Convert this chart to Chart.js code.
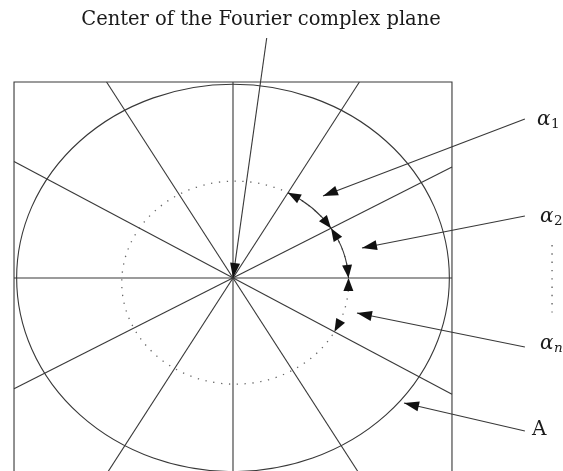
<!DOCTYPE html>
<html>
<head>
<meta charset="utf-8">
<script src="https://cdn.jsdelivr.net/npm/chart.js@4"></script>
<style>
    html, body { margin: 0; padding: 0; background: #fff; }
    #wrap { width: 563px; height: 471px; position: relative; }
</style>
</head>
<body>
<div id="wrap"><canvas id="myChart"></canvas></div>
<script>
// All values are in plane units, the square box runs from -1 to 1
const spokeAngles = [0, 29.5, 60, 90, 120, 149.3];
const circleRadii = [0.988, 0.518];
const circleCenterX = [0, 0.01];
const circleCenterY = [0, -0.024];
// arcs on the dotted circle, given by the spoke directions they join
const arcFrom = [60, 29.5, 0];
const arcTo = [29.5, 0, -30.7];
const arcSolid = [true, true, false];
const calloutStart = [[0.154, 1.224], [1.333, 0.811], [1.333, 0.316], [1.333, -0.352], [1.333, -0.781]];
const calloutTip = [[0, 0], [0.411, 0.418], [0.589, 0.153], [0.566, -0.179], [0.781, -0.638]];
const labelText = ['Center of the Fourier complex plane', 'α', 'α', 'α', 'A'];
const labelSub = ['', '1', '2', 'n', ''];
const labelX = [0.128, 1.388, 1.402, 1.402, 1.365];
const labelY = [1.316, 0.806, 0.311, -0.337, -0.776];
const dotsX = [1.457, 1.457];
const dotsY = [0.168, -0.176];

const ink = '#383838';
const serif = '"DejaVu Serif", "Liberation Serif", serif';

// spokes run through the centre and stop at the box
function spoke(deg) {
    const a = deg * Math.PI / 180;
    const c = Math.cos(a), s = Math.sin(a);
    const t = Math.min(Math.abs(c) > 1e-9 ? 1 / Math.abs(c) : 99, Math.abs(s) > 1e-9 ? 1 / Math.abs(s) : 99);
    return [{ x: c * t, y: s * t }, { x: -c * t, y: -s * t }];
}

let datasets = [];
datasets.push({ data: [{ x: -1, y: -1 }, { x: -1, y: 1 }, { x: 1, y: 1 }, { x: 1, y: -1 }, { x: -1, y: -1 }] });
spokeAngles.forEach(function (deg) {
    datasets.push({ data: spoke(deg) });
});
calloutStart.forEach(function (p, i) {
    datasets.push({ data: [{ x: p[0], y: p[1] }, { x: calloutTip[i][0], y: calloutTip[i][1] }], arrow: true });
});
datasets.push({ data: [{ x: dotsX[0], y: dotsY[0] }, { x: dotsX[1], y: dotsY[1] }], borderDash: [1.4, 6.9], borderColor: '#666', borderWidth: 1.4 });

function head(ctx, bx, by, tx, ty, len, half) {
    const a = Math.atan2(ty - by, tx - bx);
    const ca = Math.cos(a), sa = Math.sin(a);
    ctx.beginPath();
    ctx.moveTo(tx, ty);
    ctx.lineTo(tx - len * ca + half * sa, ty - len * sa - half * ca);
    ctx.lineTo(tx - len * ca - half * sa, ty - len * sa + half * ca);
    ctx.closePath();
    ctx.fill();
}

// angle (seen from the dotted circle's own centre) where a spoke meets it
function meetAngle(deg) {
    const a = deg * Math.PI / 180;
    const dx = Math.cos(a), dy = Math.sin(a);
    const h = circleCenterX[1], k = circleCenterY[1], R = circleRadii[1];
    const dc = dx * h + dy * k;
    const t = dc + Math.sqrt(dc * dc - (h * h + k * k) + R * R);
    return Math.atan2(t * dy - k, t * dx - h) * 180 / Math.PI;
}

const diagram = {
    id: 'diagram',
    beforeDatasetsDraw(chart) {
        const ctx = chart.ctx, x = chart.scales.x, y = chart.scales.y;
        ctx.save();
        circleRadii.forEach(function (r, i) {
            const cx = x.getPixelForValue(circleCenterX[i]), cy = y.getPixelForValue(circleCenterY[i]);
            const rx = x.getPixelForValue(circleCenterX[i] + r) - cx, ry = cy - y.getPixelForValue(circleCenterY[i] + r);
            if (i === 0) {
                ctx.setLineDash([]);
                ctx.lineWidth = 1.1;
                ctx.strokeStyle = ink;
            } else {
                ctx.setLineDash([1.3, 6.6]);
                ctx.lineWidth = 1.3;
                ctx.strokeStyle = '#666';
            }
            ctx.beginPath();
            ctx.ellipse(cx, cy, rx, ry, 0, 0, Math.PI * 2);
            ctx.stroke();
        });
        ctx.restore();
    },
    afterDatasetsDraw(chart) {
        const ctx = chart.ctx, x = chart.scales.x, y = chart.scales.y;
        const cx = x.getPixelForValue(circleCenterX[1]), cy = y.getPixelForValue(circleCenterY[1]);
        const rx = x.getPixelForValue(circleCenterX[1] + circleRadii[1]) - cx;
        const ry = cy - y.getPixelForValue(circleCenterY[1] + circleRadii[1]);
        const P = function (deg) {
            const a = deg * Math.PI / 180;
            return [cx + rx * Math.cos(a), cy - ry * Math.sin(a)];
        };
        ctx.save();
        ctx.fillStyle = '#111';
        ctx.strokeStyle = ink;
        ctx.lineWidth = 1.1;

        // arrowheads on the callout lines
        chart.data.datasets.forEach(function (ds, i) {
            if (!ds.arrow) return;
            const pts = chart.getDatasetMeta(i).data;
            const b = pts[0], t = pts[pts.length - 1];
            head(ctx, b.x, b.y, t.x, t.y, 15, 5);
        });

        // arcs between spokes on the dotted circle
        arcFrom.forEach(function (fromSpoke, i) {
            const from = meetAngle(fromSpoke), to = meetAngle(arcTo[i]);
            const s = Math.sign(to - from);
            if (arcSolid[i]) {
                ctx.beginPath();
                ctx.ellipse(cx, cy, rx, ry, 0, -Math.max(from, to) * Math.PI / 180, -Math.min(from, to) * Math.PI / 180);
                ctx.stroke();
            }
            const a = P(from), ab = P(from + s * 6);
            const b = P(to), bb = P(to - s * 6);
            head(ctx, ab[0], ab[1], a[0], a[1], 13, 5);
            head(ctx, bb[0], bb[1], b[0], b[1], 13, 5);
        });

        // labels
        ctx.fillStyle = '#1a1a1a';
        ctx.textBaseline = 'middle';
        labelText.forEach(function (txt, i) {
            const px = x.getPixelForValue(labelX[i]), py = y.getPixelForValue(labelY[i]);
            if (i === 0) {
                ctx.font = '19.5px ' + serif;
                ctx.textAlign = 'center';
                ctx.fillText(txt, px, py);
                return;
            }
            ctx.textAlign = 'left';
            ctx.font = (txt === 'α' ? 'italic ' : '') + '20px ' + serif;
            ctx.fillText(txt, px, py);
            if (labelSub[i]) {
                const w = ctx.measureText(txt).width;
                ctx.font = (labelSub[i] === 'n' ? 'italic ' : '') + '13.5px ' + serif;
                ctx.fillText(labelSub[i], px + w + 0.5, py + 4.5);
            }
        });
        ctx.restore();
    }
};

document.addEventListener("DOMContentLoaded", function () {
    new Chart("myChart", {
        type: "scatter",
        data: { datasets: datasets },
        options: {
            responsive: true,
            maintainAspectRatio: false,
            animation: false,
            events: [],
            layout: { padding: 0 },
            datasets: {
                scatter: { showLine: true, borderColor: ink, borderWidth: 1.1, pointRadius: 0, tension: 0 }
            },
            scales: {
                x: { type: 'linear', min: -1.064, max: 1.507, display: false },
                y: { type: 'linear', min: -0.985, max: 1.418, display: false }
            },
            plugins: {
                legend: { display: false },
                tooltip: { enabled: false }
            }
        },
        plugins: [diagram]
    });
});
</script>
</body>
</html>
